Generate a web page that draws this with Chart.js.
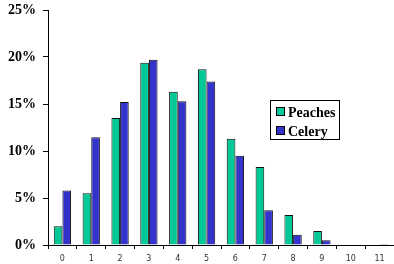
<!DOCTYPE html>
<html>
<head>
<meta charset="utf-8">
<script src="https://cdn.jsdelivr.net/npm/chart.js@4/dist/chart.umd.min.js"></script>
<style>
  html, body { margin: 0; padding: 0; background: #fff; }
  #wrap { width: 394px; height: 264px; }
</style>
</head>
<body>
<div id="wrap"><canvas id="c" width="394" height="264"></canvas></div>
<script>
// values, in percent
const categories = ['0', '1', '2', '3', '4', '5', '6', '7', '8', '9', '10', '11'];
const peaches = [2.0, 5.5, 13.5, 19.4, 16.3, 18.7, 11.3, 8.3, 3.2, 1.5, 0, 0];
const celery = [5.8, 11.45, 15.2, 19.7, 15.3, 17.4, 9.5, 3.7, 1.1, 0.5, 0, 0.1];
const yTicks = [0, 5, 10, 15, 20, 25];

const PEACH = '#00c896';
const CELERY = '#3333cc';

// legend box drawn inside the plot, like the original
const boxLegend = {
  id: 'boxLegend',
  afterDraw(chart) {
    const ctx = chart.ctx;
    const x = 270.5, y = 100.5, w = 69, h = 39;
    ctx.save();
    ctx.fillStyle = '#fff';
    ctx.fillRect(x, y, w, h);
    ctx.strokeStyle = '#000';
    ctx.lineWidth = 1;
    ctx.strokeRect(x, y, w, h);
    ctx.font = 'bold 14px "Liberation Serif", "Times New Roman", serif';
    ctx.textBaseline = 'middle';
    chart.data.datasets.forEach((ds, i) => {
      const cy = 112 + i * 19;
      ctx.fillStyle = ds.backgroundColor;
      ctx.fillRect(276.5, cy - 4.5, 8, 8);
      ctx.strokeStyle = '#000';
      ctx.strokeRect(276.5, cy - 4.5, 8, 8);
      ctx.fillStyle = '#000';
      ctx.fillText(ds.label, 288, cy + 1);
    });
    ctx.restore();
  }
};

new Chart(document.getElementById('c'), {
  type: 'bar',
  data: {
    labels: categories,
    datasets: [
      { label: 'Peaches', data: peaches, backgroundColor: PEACH, borderColor: '#111', borderWidth: 1 },
      { label: 'Celery', data: celery, backgroundColor: CELERY, borderColor: '#111', borderWidth: 1 }
    ]
  },
  options: {
    responsive: false,
    animation: false,
    maintainAspectRatio: false,
    layout: { padding: { top: 10, right: 0, left: 0, bottom: 0 } },
    plugins: { legend: { display: false }, tooltip: { enabled: false } },
    datasets: { bar: { categoryPercentage: 0.6, barPercentage: 1.0 } },
    scales: {
      x: {
        grid: { display: true, drawOnChartArea: false, drawTicks: true, tickLength: 4, color: '#000', offset: true },
        border: { display: true, color: '#000', width: 1 },
        ticks: { color: '#333', font: { family: '"DejaVu Sans", Verdana, sans-serif', size: 8 }, padding: 5, maxRotation: 0 },
        afterFit(scale) { scale.height = 19; scale.paddingLeft = 0; scale.paddingRight = 0; }
      },
      y: {
        min: 0,
        max: 25,
        afterBuildTicks(scale) { scale.ticks = yTicks.map(v => ({ value: v })); },
        grid: { display: true, drawOnChartArea: false, drawTicks: true, tickLength: 5, color: '#000' },
        border: { display: true, color: '#000', width: 1 },
        ticks: {
          color: '#000',
          padding: 7,
          font: { family: '"Liberation Serif", "Times New Roman", serif', size: 14, weight: 'bold' },
          callback: v => v + '%'
        },
        afterFit(scale) { scale.width = 48; scale.paddingTop = 0; scale.paddingBottom = 0; }
      }
    }
  },
  plugins: [boxLegend]
});
</script>
</body>
</html>
